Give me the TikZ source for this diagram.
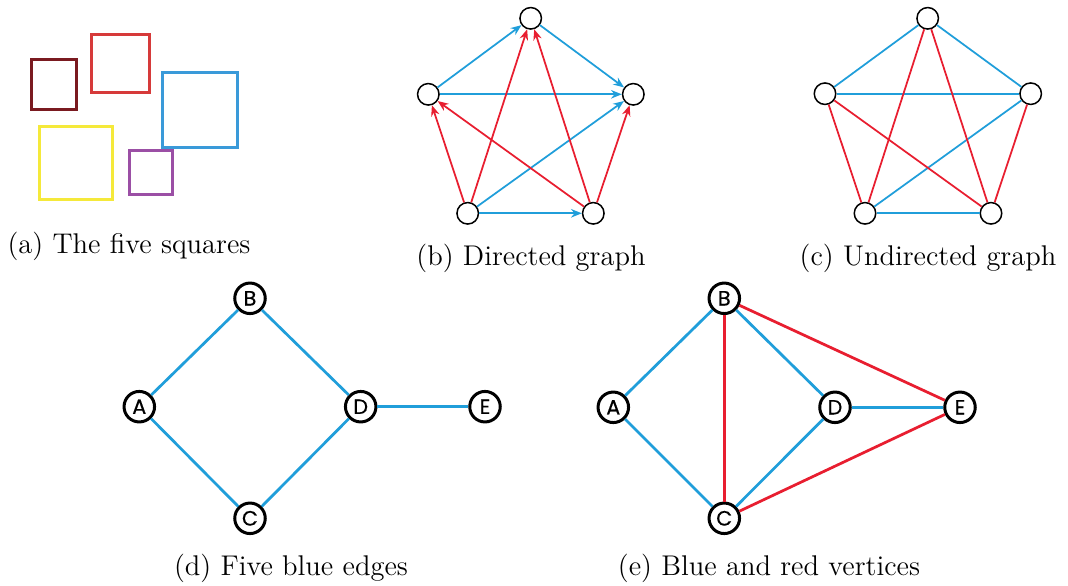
\documentclass[tikz,border=0pt]{standalone}
\usepackage{fontspec}
\newfontfamily\nodefont{Poppins}[FakeBold=0.5]
\usetikzlibrary{arrows.meta}
\definecolor{blueE}{RGB}{32,158,218}
\definecolor{redE}{RGB}{232,30,48}
\definecolor{sqdark}{RGB}{122,26,32}
\definecolor{sqred}{RGB}{214,58,58}
\definecolor{sqblue}{RGB}{58,154,217}
\definecolor{sqyellow}{RGB}{245,233,58}
\definecolor{sqpurple}{RGB}{155,79,165}
\tikzset{
  sqbox/.style={line width=1.2pt},
  small/.style={circle,draw=black,line width=0.6pt,fill=white,minimum size=8.6pt,inner sep=0pt},
  big/.style={circle,draw=black,line width=1.2pt,fill=white,minimum size=12.2pt,inner sep=0pt,font=\nodefont\fontsize{8.3}{9}\selectfont},
  thinb/.style={blueE,line width=0.7pt},
  thinr/.style={redE,line width=0.7pt},
  arr/.style={-{Stealth[length=4.3pt,width=3.4pt]}},
  thickb/.style={blueE,line width=1.1pt},
  thickr/.style={redE,line width=1.1pt},
  captxt/.style={font=\fontsize{11.4}{13}\selectfont,anchor=base}
}
\begin{document}
\begin{tikzpicture}[x=0.4pt,y=-0.4pt]
\useasboundingbox (0,0) rectangle (1068,586);
% (a)
\draw[sqbox,sqdark] (31,60) rectangle (76,110);
\draw[sqbox,sqred] (91,35) rectangle (149,93);
\draw[sqbox,sqblue] (162,73) rectangle (237,148);
\draw[sqbox,sqyellow] (39,127) rectangle (112,200);
\draw[sqbox,sqpurple] (129,151) rectangle (172,195);
\node[captxt] (capa) at (129,253) {(a) The five squares};
% (b)
\node[small] (bt) at (530.7,18.3) {};
\node[small] (bl) at (428.3,94.3) {};
\node[small] (br) at (633.3,94.3) {};
\node[small] (bbl) at (467.7,213.3) {};
\node[small] (bbr) at (593.3,213.3) {};
\draw[thinb,arr] (bl) -- (bt);
\draw[thinb,arr] (bt) -- (br);
\draw[thinb,arr] (bl) -- (br);
\draw[thinb,arr] (bbl) -- (br);
\draw[thinb,arr] (bbl) -- (bbr);
\draw[thinr,arr] (bbl) -- (bl);
\draw[thinr,arr] (bbl) -- (bt);
\draw[thinr,arr] (bbr) -- (bt);
\draw[thinr,arr] (bbr) -- (bl);
\draw[thinr,arr] (bbr) -- (br);
\node[captxt] (capb) at (531,266) {(b) Directed graph};
% (c)
\node[small] (ct) at (927.7,18.3) {};
\node[small] (cl) at (825,93.7) {};
\node[small] (cr) at (1030.7,93.7) {};
\node[small] (cbl) at (865,213.3) {};
\node[small] (cbr) at (991,213.3) {};
\draw[thinb] (cl) -- (ct);
\draw[thinb] (ct) -- (cr);
\draw[thinb] (cl) -- (cr);
\draw[thinb] (cbl) -- (cr);
\draw[thinb] (cbl) -- (cbr);
\draw[thinr] (cbl) -- (cl);
\draw[thinr] (cbl) -- (ct);
\draw[thinr] (cbr) -- (ct);
\draw[thinr] (cbr) -- (cl);
\draw[thinr] (cbr) -- (cr);
\node[captxt] (capc) at (928,266) {(c) Undirected graph};
% (d)
\node[big] (dA) at (139.3,406.7) {A};
\node[big] (dB) at (250,298.3) {B};
\node[big] (dC) at (250,518.3) {C};
\node[big] (dD) at (360.7,406.7) {D};
\node[big] (dE) at (485,406.7) {E};
\draw[thickb] (dA) -- (dB);
\draw[thickb] (dA) -- (dC);
\draw[thickb] (dB) -- (dD);
\draw[thickb] (dC) -- (dD);
\draw[thickb] (dD) -- (dE);
\node[captxt] (capd) at (291,575) {(d) Five blue edges};
% (e)
\node[big] (eA) at (613.3,407.3) {A};
\node[big] (eB) at (724.3,298.3) {B};
\node[big] (eC) at (724.3,518.3) {C};
\node[big] (eD) at (835,407.3) {D};
\node[big] (eE) at (960,407.3) {E};
\draw[thickb] (eA) -- (eB);
\draw[thickb] (eA) -- (eC);
\draw[thickb] (eB) -- (eD);
\draw[thickb] (eC) -- (eD);
\draw[thickb] (eD) -- (eE);
\draw[thickr] (eB) -- (eC);
\draw[thickr] (eB) -- (eE);
\draw[thickr] (eC) -- (eE);
\node[captxt] (cape) at (769,575) {(e) Blue and red vertices};
\end{tikzpicture}
\end{document}
